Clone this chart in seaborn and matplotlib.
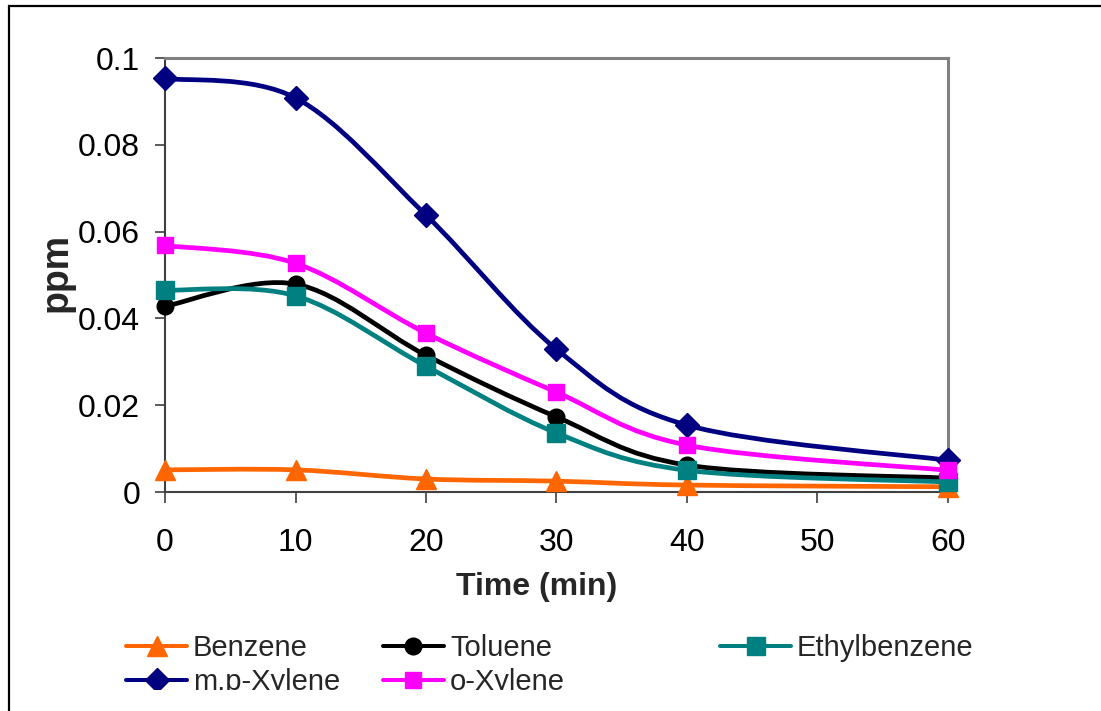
import matplotlib
matplotlib.use("Agg")
import numpy as np
import pandas as pd
import seaborn as sns
import matplotlib.pyplot as plt
from matplotlib.path import Path
from matplotlib.patches import PathPatch, Rectangle
from matplotlib.lines import Line2D
from matplotlib import font_manager as fm

# ---------------- data ----------------
time_min = [0, 10, 20, 30, 40, 60]
benzene = [0.0051, 0.0051, 0.0030, 0.0025, 0.0016, 0.0012]
toluene = [0.0428, 0.0479, 0.0315, 0.0173, 0.0062, 0.0032]
ethylbenzene = [0.0465, 0.0452, 0.0290, 0.0136, 0.0050, 0.0023]
mp_xylene = [0.0953, 0.0908, 0.0638, 0.0329, 0.0154, 0.0073]
o_xylene = [0.0568, 0.0527, 0.0366, 0.0230, 0.0108, 0.0050]

series_names = ["Benzene", "Toluene", "Ethylbenzene", "m,p-Xylene", "o-Xylene"]
x_ticks = [0, 10, 20, 30, 40, 50, 60]
y_ticks = [0, 0.02, 0.04, 0.06, 0.08, 0.1]
y_tick_labels = ["0", "0.02", "0.04", "0.06", "0.08", "0.1"]

# ---------------- style ----------------
sns.set_theme(style="white")
names = {f.name for f in fm.fontManager.ttflist}
base = "Liberation Sans" if "Liberation Sans" in names else "DejaVu Sans"
narrow = "Liberation Sans Narrow" if "Liberation Sans Narrow" in names else base
plt.rcParams["font.family"] = [base, "DejaVu Sans"]

colors = ["#FF6600", "#000000", "#008080", "#000080", "#FF00FF"]
markers = ["^", "o", "s", "D", "s"]
msizes = [15, 12, 13, 12, 11]
LW = 3.4

W, H = 1101, 711
fig = plt.figure(figsize=(W / 100, H / 100), dpi=100)
ax = fig.add_axes([165 / W, (H - 492) / H, (948 - 165) / W, (492 - 58) / H])

df = pd.DataFrame({"Time": time_min, "Benzene": benzene, "Toluene": toluene,
                   "Ethylbenzene": ethylbenzene, "m,p-Xylene": mp_xylene,
                   "o-Xylene": o_xylene})


def smooth_path(xs, ys):
    pts = np.column_stack([xs, ys]).astype(float)
    n = len(pts)
    verts = [pts[0]]
    codes = [Path.MOVETO]
    for i in range(n - 1):
        p0 = pts[i - 1] if i > 0 else pts[i]
        p1 = pts[i]
        p2 = pts[i + 1]
        p3 = pts[i + 2] if i + 2 < n else pts[i + 1]
        verts += [p1 + (p2 - p0) / 6.0, p2 - (p3 - p1) / 6.0, p2]
        codes += [Path.CURVE4] * 3
    return Path(verts, codes)


handles = {}
for i, name in enumerate(series_names):
    c = colors[i]
    patch = PathPatch(smooth_path(df["Time"], df[name]), fill=False, edgecolor=c,
                      lw=LW, capstyle="round", joinstyle="round", zorder=3 + 2 * i,
                      clip_on=False)
    ax.add_patch(patch)
    sns.lineplot(data=df, x="Time", y=name, ax=ax, color=c, marker=markers[i],
                 markersize=msizes[i], markeredgecolor=c, markeredgewidth=1,
                 linewidth=0, clip_on=False, zorder=4 + 2 * i, legend=False)
    handles[name] = Line2D([], [], color=c, lw=LW * 0.85, marker=markers[i],
                           markersize=msizes[i], markeredgecolor=c,
                           solid_capstyle="round")

ax.set_xlim(0, 60)
ax.set_ylim(0, 0.1)
ax.set_xticks(x_ticks)
ax.set_xticklabels([str(v) for v in x_ticks])
ax.set_yticks(y_ticks)
ax.set_yticklabels(y_tick_labels)
ax.set_xlabel("")
ax.set_ylabel("")
ax.grid(False)

for s in ["left", "bottom"]:
    ax.spines[s].set_color("#404040")
    ax.spines[s].set_linewidth(1.5)
for s in ["top", "right"]:
    ax.spines[s].set_color("#808080")
    ax.spines[s].set_linewidth(2.2)

ax.tick_params(axis="both", direction="out", colors="#404040", width=1.2,
               labelsize=23, labelcolor="black", bottom=True, left=True)
ax.tick_params(axis="x", length=8, pad=18)
ax.tick_params(axis="y", length=7, pad=11)

fig.text(537 / W, 1 - 595 / H, "Time (min)", ha="center", va="baseline",
         fontsize=23, fontweight="bold")
fig.text(57 / W, 1 - 272 / H, "ppm", ha="center", va="center", rotation=90,
         fontsize=27, fontweight="bold")

# legends (three columns laid out like the original)
LFS = 21
em = LFS * 100 / 72.0
leg_kw = dict(frameon=False, borderpad=0, borderaxespad=0,
              handletextpad=6 / em, labelspacing=0.22, loc="center left",
              prop={"family": [narrow, "DejaVu Sans"], "size": LFS})
fig.legend([handles["Benzene"], handles["m,p-Xylene"]], ["Benzene", "m,p-Xylene"],
           bbox_to_anchor=(126 / W, 1 - 665 / H), handlelength=61 / em, **leg_kw)
fig.legend([handles["Toluene"], handles["o-Xylene"]], ["Toluene", "o-Xylene"],
           bbox_to_anchor=(383 / W, 1 - 665 / H), handlelength=61 / em, **leg_kw)
fig.legend([handles["Ethylbenzene"]], ["Ethylbenzene"],
           bbox_to_anchor=(720 / W, 1 - 648 / H), handlelength=71 / em, **leg_kw)

# outer chart frame (only left and top edges visible) and clipped bottom strip
fig.add_artist(Rectangle((10.5 / W, 0), 1.0, 21 / H, transform=fig.transFigure,
                         facecolor="white", edgecolor="none", zorder=20))
fig.add_artist(Rectangle((8.5 / W, -0.5), 2.0, (1 - 6 / H) + 0.5,
                         transform=fig.transFigure, fill=False, edgecolor="black",
                         lw=1.6, zorder=21))

fig.savefig("out.png", dpi=100)
